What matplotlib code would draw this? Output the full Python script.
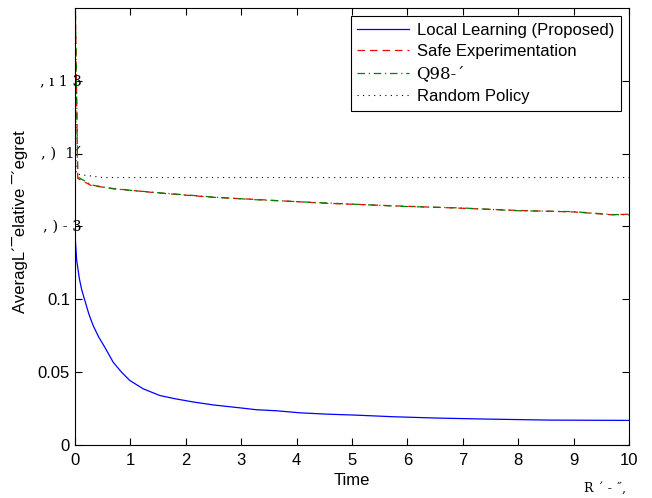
import matplotlib
matplotlib.use('Agg')
import matplotlib.pyplot as plt
import matplotlib.transforms as mtransforms

# data
t_local = [0, 0, 0.005, 0.03, 0.08, 0.12, 0.18, 0.25, 0.33, 0.43, 0.54, 0.69, 0.84, 0.99,
           1.23, 1.53, 1.8, 2.14, 2.5, 2.98, 3.28, 3.64, 4.06, 4.54, 5.08, 5.75, 6.53,
           7.43, 8.57, 10]
local = [0, 0.32, 0.142, 0.127, 0.114, 0.1068, 0.0989, 0.090, 0.0818, 0.074, 0.067,
         0.0568, 0.050, 0.0443, 0.0386, 0.034, 0.0318, 0.0295, 0.0275, 0.0255, 0.0242,
         0.0235, 0.0221, 0.0212, 0.0205, 0.0194, 0.0185, 0.0178, 0.0171, 0.0169]

t_safe = [0, 0, 0.05, 0.3, 0.7, 1.5, 2.5, 3.3, 4.5, 5.9, 7, 8, 9, 9.7, 10]
safe = [0, 0.32, 0.183, 0.178, 0.176, 0.173, 0.170, 0.1685, 0.166, 0.164, 0.1625, 0.161,
        0.160, 0.158, 0.1585]
q98 = [0, 0.32, 0.184, 0.1785, 0.1758, 0.1732, 0.1702, 0.1683, 0.1662, 0.1638, 0.1627,
       0.1608, 0.1602, 0.1582, 0.158]

t_rand = [0, 0, 0.02, 0.5, 10]
rand = [0, 0.32, 0.186, 0.1836, 0.1836]

yticks = [0, 0.05, 0.1, 0.15, 0.2, 0.25]
ytick_labels = ['0', '0.05', '0.1', '', '', '']
garbled_ticks = {0.15: ', ) - 3', 0.2: ', )  1\u00b4', 0.25: ', \u0131 1 3'}

plt.rcParams['font.family'] = ['Liberation Sans', 'DejaVu Sans']
plt.rcParams["xtick.direction"] = "in"
plt.rcParams["ytick.direction"] = "in"

fig = plt.figure(figsize=(6.52, 4.98), dpi=100)
ax = fig.add_axes([0.115, 0.1064, 0.8497, 0.8776])

ax.plot(t_local, local, '-', color='#0000ff', lw=0.9, label='Local Learning (Proposed)')
ax.plot(t_safe, safe, '--', color='#ff0000', lw=0.9, dashes=(6, 4), label='Safe Experimentation')
ax.plot(t_safe, q98, '-.', color='#008000', lw=0.9, dashes=(6, 3, 1, 3), label='Q98-\u00b4')
ax.plot(t_rand, rand, ':', color='black', lw=0.8, dashes=(1, 4), label='Random Policy')

ax.set_xlim(0, 10)
ax.set_ylim(0, 0.3)
ax.set_xticks(range(11))
ax.set_yticks(yticks)
ax.set_yticklabels(ytick_labels)
ax.tick_params(labelsize=12, top=True, right=True, length=5, width=0.8)
ax.tick_params(axis='x', pad=6)
for s in ax.spines.values():
    s.set_linewidth(0.8)

trans = mtransforms.blended_transform_factory(ax.transAxes, ax.transData)
for yv, txt in garbled_ticks.items():
    ax.text(0.012, yv, txt, transform=trans, ha='right', va='center',
            family='DejaVu Serif', fontsize=10.5)

ax.set_xlabel('Time', fontsize=12, labelpad=3)
ax.set_ylabel('AveragL\u00b4\u00afelative \u00af\u00b4egret', fontsize=12)
ax.yaxis.set_label_coords(-0.084, 0.51)
ax.text(0.995, -0.098, 'R \u00b4 - \u02dd,', transform=ax.transAxes, ha='right', va='center',
        family='DejaVu Serif', fontsize=9)

leg = ax.legend(loc='upper right', fontsize=12, fancybox=False, framealpha=1,
                edgecolor='black', handlelength=3.1, handletextpad=0.45, borderpad=0.4,
                labelspacing=0.38, borderaxespad=0.5)
leg.get_frame().set_linewidth(0.8)
leg.get_texts()[2].set_family('DejaVu Serif')

plt.savefig('out.png', dpi=100)
